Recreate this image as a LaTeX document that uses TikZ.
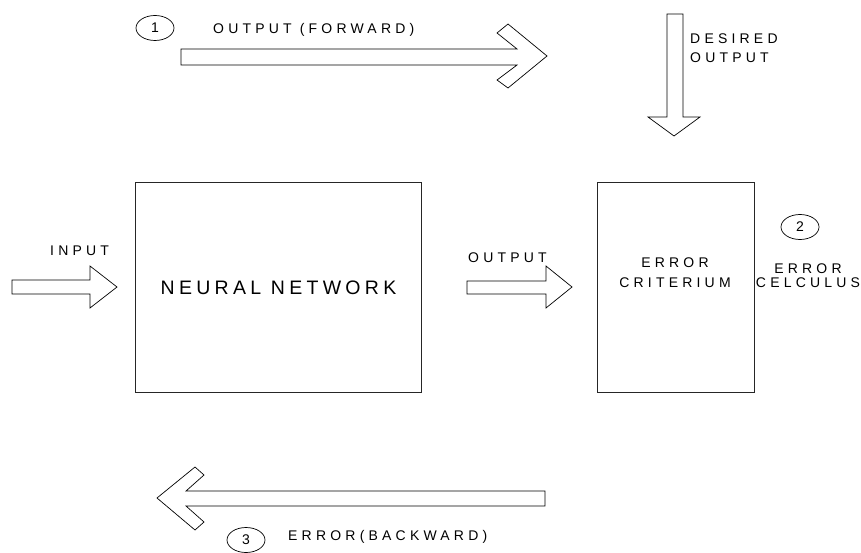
\documentclass[tikz,border=0pt]{standalone}
\usepackage{fontspec}
\setmainfont{Liberation Sans}
\usetikzlibrary{shapes.geometric}
\begin{document}
\begin{tikzpicture}[x=1pt,y=-1pt,
  box/.style={draw=black!85, line width=1pt, inner sep=0pt},
  fat/.style={draw=black, line width=0.7pt, fill=white, line join=miter},
  lbl/.style={inner sep=0pt, anchor=base west,
    font=\fontsize{14}{16}\selectfont\addfontfeature{LetterSpace=30}},
  clbl/.style={lbl, anchor=base},
  numc/.style={draw=black, line width=0.7pt, ellipse, minimum width=38pt,
    minimum height=25pt, inner sep=0pt, font=\fontsize{14}{16}\selectfont}
]
\useasboundingbox (0,0) rectangle (861,553);

% main blocks
\node[box, minimum width=286pt, minimum height=210pt, anchor=north west,
  font=\fontsize{19.5}{22}\selectfont\addfontfeature{LetterSpace=22}]
  (nn) at (135,182) {NEURAL NETWORK};
\node[box, minimum width=157pt, minimum height=210pt, anchor=north west]
  (crit) at (597,182) {};
\node[clbl] (crit1) at (675,267) {ERROR};
\node[clbl] (crit2) at (675,287) {CRITERIUM};

% input and output block arrows
\draw[fat] (12,280) -- (90,280) -- (90,266) -- (117,287) -- (90,308)
  -- (90,294) -- (12,294) -- cycle;
\node[lbl] (inp) at (50,255) {INPUT};
\draw[fat] (467,281) -- (546,281) -- (546,266) -- (572,287) -- (546,308)
  -- (546,294) -- (467,294) -- cycle;
\node[lbl] (outp) at (468,262) {OUTPUT};

% desired output, coming down into the criterion
\draw[fat] (667,14) -- (683,14) -- (683,117) -- (700,117) -- (674,136)
  -- (648,117) -- (667,117) -- cycle;
\node[lbl] (des1) at (690,44) {DESIRED};
\node[lbl] (des2) at (690,63) {OUTPUT};

% step 1: forward pass
\node[numc] (n1) at (155,28) {1};
\draw[fat] (181,49) -- (517,49) -- (497,33) -- (508,24) -- (547,56)
  -- (508,88) -- (497,80) -- (517,65) -- (181,65) -- cycle;
\node[lbl] (fwd) at (213,34) {OUTPUT (FORWARD)};

% step 2: error computation
\node[numc] (n2) at (800,227) {2};
\node[clbl] (calc1) at (808,273) {ERROR};
\node[clbl] (calc2) at (808,287) {CELCULUS};

% step 3: backward pass
\draw[fat] (545,491) -- (186,491) -- (204,475) -- (195,467) -- (157,498)
  -- (195,530) -- (204,522) -- (186,506) -- (545,506) -- cycle;
\node[numc] (n3) at (246,540) {3};
\node[lbl] (bwd) at (288,540) {ERROR(BACKWARD)};
\end{tikzpicture}
\end{document}
